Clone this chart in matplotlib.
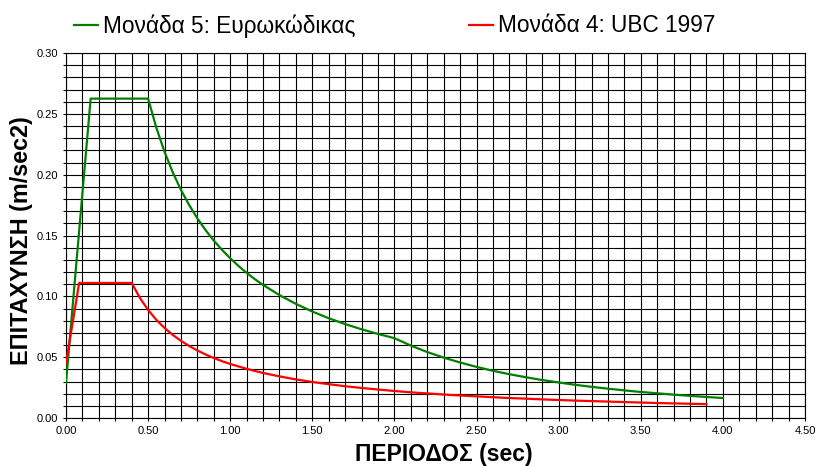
import numpy as np
import matplotlib
matplotlib.use("Agg")
import matplotlib.pyplot as plt
from matplotlib.lines import Line2D
from matplotlib.ticker import MultipleLocator

plt.rcParams['font.family'] = ['Liberation Sans', 'DejaVu Sans']

# Eurocode spectrum (Μονάδα 5)
t_ec = [0.0, 0.15, 0.5, 0.55, 0.6, 0.65, 0.7, 0.75, 0.8, 0.85, 0.9, 0.95, 1.0,
        1.05, 1.1, 1.15, 1.2, 1.3, 1.4, 1.5, 1.6, 1.7,
        1.8, 1.9, 2.0, 2.1, 2.2, 2.3, 2.4, 2.5, 2.6, 2.7, 2.8, 2.9, 3.0, 3.1, 3.2,
        3.3, 3.4, 3.5, 3.6, 3.7, 3.8, 3.9, 4.0]
a_ec = [0.029, 0.2625, 0.2625, 0.2386, 0.2188, 0.2019, 0.1875, 0.1750, 0.1641,
        0.1544, 0.1458, 0.1382, 0.1313, 0.1250, 0.1193, 0.1141,
        0.1094, 0.1010, 0.0938, 0.0875, 0.0820, 0.0772, 0.0729, 0.0691, 0.0656,
        0.0595, 0.0542, 0.0496, 0.0456, 0.0420, 0.0388, 0.0360, 0.0335, 0.0312,
        0.0292, 0.0273, 0.0256, 0.0241, 0.0227, 0.0214, 0.0203, 0.0192, 0.0182,
        0.0173, 0.0164]

# UBC 1997 spectrum (Μονάδα 4)
t_ubc = [0.0, 0.08, 0.4, 0.45, 0.5, 0.55, 0.6, 0.65, 0.7, 0.75, 0.8, 0.85, 0.9,
         0.95, 1.0, 1.1, 1.2, 1.3, 1.4, 1.5,
         1.6, 1.7, 1.8, 1.9, 2.0, 2.1, 2.2, 2.3, 2.4, 2.5, 2.6, 2.7, 2.8, 2.9,
         3.0, 3.1, 3.2, 3.3, 3.4, 3.5, 3.6, 3.7, 3.8, 3.9]
a_ubc = [0.045, 0.111, 0.111, 0.0987, 0.0888, 0.0807, 0.0740, 0.0683, 0.0634,
         0.0592, 0.0555, 0.0522, 0.0493, 0.0467, 0.0444,
         0.0404, 0.0370, 0.0342, 0.0317, 0.0296, 0.0278, 0.0261, 0.0247, 0.0234,
         0.0222, 0.0211, 0.0202, 0.0193, 0.0185, 0.0178, 0.0171, 0.0164, 0.0159,
         0.0153, 0.0148, 0.0143, 0.0139, 0.0135, 0.0131, 0.0127, 0.0123, 0.0120,
         0.0117, 0.0114]

labels = ["Μονάδα 5: Ευρωκώδικας", "Μονάδα 4: UBC 1997"]
colors = ["#008000", "#ff0000"]

fig = plt.figure(figsize=(8.17, 4.66), dpi=100)
ax = fig.add_axes([66 / 817, 1 - 418 / 466, (805 - 66) / 817, (418 - 53) / 466])

ax.plot(t_ec, a_ec, color=colors[0], lw=1.6, zorder=3)
ax.plot(t_ubc, a_ubc, color=colors[1], lw=1.6, zorder=3)

ax.set_xlim(0, 4.5)
ax.set_ylim(0, 0.30)
ax.xaxis.set_major_locator(MultipleLocator(0.5))
ax.xaxis.set_minor_locator(MultipleLocator(0.1))
ax.yaxis.set_major_locator(MultipleLocator(0.05))
ax.yaxis.set_minor_locator(MultipleLocator(0.01))
ax.xaxis.set_major_formatter(lambda v, p: f"{v:.2f}")
ax.yaxis.set_major_formatter(lambda v, p: f"{v:.2f}")
ax.grid(which='both', color='black', lw=0.8)
ax.tick_params(which='both', labelsize=8, length=2.5, width=0.8, direction='out',
               colors='black', pad=3)
for s in ax.spines.values():
    s.set_color('black')
    s.set_linewidth(0.8)

fig.text(444 / 817, 1 - 454 / 466, "ΠΕΡΙΟΔΟΣ (sec)", fontsize=16.5, fontweight='bold',
         ha='center', va='center')
fig.text(22 / 817, 1 - 241 / 466, "ΕΠΙΤΑΧΥΝΣΗ (m/sec2)", fontsize=16.8, fontweight='bold',
         ha='center', va='center', rotation=90)

# two legend entries placed separately above the plot
for lab, col, x0 in zip(labels, colors, [74, 469]):
    h = Line2D([], [], color=col, lw=1.6)
    fig.legend([h], [lab], loc='center left', bbox_to_anchor=(x0 / 817, 1 - 26 / 466),
               frameon=False, fontsize=16.3, handlelength=1.05, handletextpad=0.25,
               borderpad=0, borderaxespad=0)

fig.savefig("out.png", dpi=100)
